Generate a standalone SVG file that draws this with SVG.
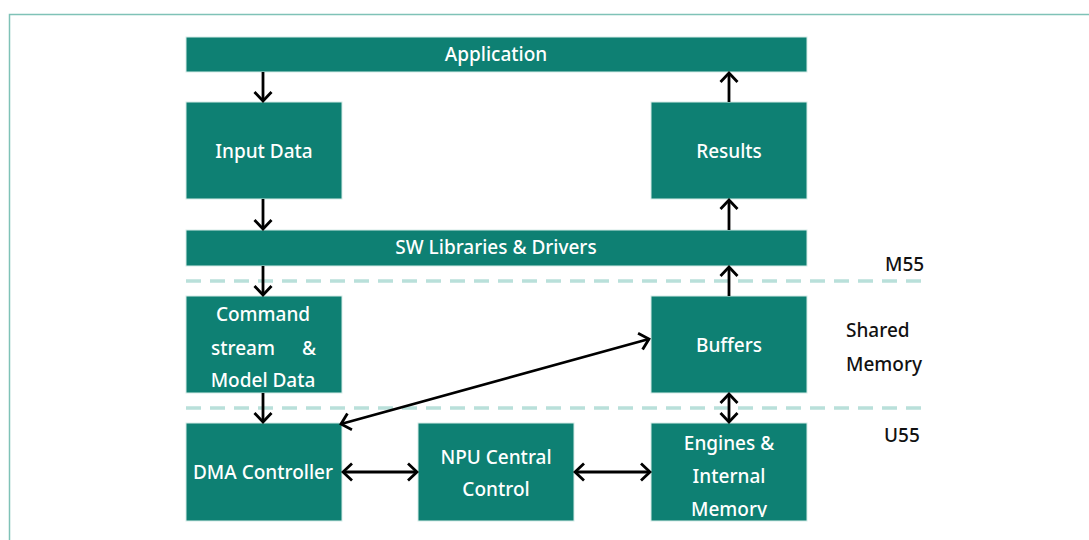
<svg xmlns="http://www.w3.org/2000/svg" width="1089" height="540" viewBox="0 0 1089 540">
<style>
.box{fill:#0e8073;stroke:#d6ece8;stroke-width:1}
.t{font-family:"Noto Sans","Liberation Sans",sans-serif;font-size:19px;font-weight:500;fill:#ffffff;text-anchor:middle}
.lbl{font-family:"Noto Sans","Liberation Sans",sans-serif;font-size:19px;font-weight:500;fill:#111111}
.dash{stroke:#b9e0da;stroke-width:3.5;stroke-dasharray:15 9;fill:none}
.c{stroke:#000;stroke-width:2.8;fill:none}
</style>
<defs>
<marker id="ah" markerUnits="userSpaceOnUse" viewBox="-12 -10 14 20" refX="0" refY="0" markerWidth="14" markerHeight="20" orient="auto-start-reverse">
<path d="M-9,-8.5 L0,0 L-9,8.5" fill="none" stroke="#000" stroke-width="2.8"/>
</marker>
<clipPath id="engClip"><rect x="651" y="423" width="156" height="94"/></clipPath>
</defs>
<rect width="1089" height="540" fill="#fff"/>
<rect x="9.5" y="14.5" width="1100" height="600" fill="none" stroke="#7fc2b7" stroke-width="1.5"/>

<g id="separators">
<line class="dash" x1="186" y1="281" x2="924" y2="281"/>
<line class="dash" x1="186" y1="408" x2="924" y2="408"/>
</g>

<g id="application"><rect class="box" x="186" y="37" width="621" height="35"/><text class="t" x="496" y="61">Application</text></g>
<g id="input-data"><rect class="box" x="186" y="102" width="156" height="97"/><text class="t" x="264" y="158">Input Data</text></g>
<g id="results"><rect class="box" x="651" y="102" width="156" height="97"/><text class="t" x="729" y="158">Results</text></g>
<g id="sw-libraries"><rect class="box" x="186" y="230" width="621" height="36"/><text class="t" x="496" y="254">SW Libraries &amp; Drivers</text></g>
<g id="command-stream"><rect class="box" x="186" y="296" width="156" height="97"/>
<text class="t" x="263" y="321">Command</text>
<text class="t" style="text-anchor:start"><tspan x="211" y="355">stream</tspan><tspan x="302" y="355">&amp;</tspan></text>
<text class="t" x="263" y="387">Model Data</text></g>
<g id="buffers"><rect class="box" x="651" y="296" width="156" height="97"/><text class="t" x="729" y="352">Buffers</text></g>
<g id="dma-controller"><rect class="box" x="186" y="423" width="156" height="98"/><text class="t" x="263" y="479">DMA Controller</text></g>
<g id="npu-central-control"><rect class="box" x="418" y="423" width="156" height="98"/><text class="t" x="496" y="464">NPU Central</text><text class="t" x="496" y="496">Control</text></g>
<g id="engines"><rect class="box" x="651" y="423" width="156" height="98"/>
<g clip-path="url(#engClip)"><text class="t" x="729" y="450">Engines &amp;</text><text class="t" x="729" y="483">Internal</text><text class="t" x="729" y="516">Memory</text></g></g>

<g id="labels">
<text class="lbl" x="885" y="271">M55</text>
<text class="lbl" x="846" y="337">Shared</text>
<text class="lbl" x="846" y="371">Memory</text>
<text class="lbl" x="884" y="442">U55</text>
</g>

<g id="connectors">
<line class="c" x1="263" y1="72" x2="263" y2="101" marker-end="url(#ah)"/>
<line class="c" x1="263" y1="199" x2="263" y2="229" marker-end="url(#ah)"/>
<line class="c" x1="263" y1="266" x2="263" y2="295" marker-end="url(#ah)"/>
<line class="c" x1="263" y1="393" x2="263" y2="422" marker-end="url(#ah)"/>
<line class="c" x1="729" y1="102" x2="729" y2="73" marker-end="url(#ah)"/>
<line class="c" x1="729" y1="230" x2="729" y2="200" marker-end="url(#ah)"/>
<line class="c" x1="729" y1="296" x2="729" y2="267" marker-end="url(#ah)"/>
<line class="c" x1="729" y1="394" x2="729" y2="422" marker-start="url(#ah)" marker-end="url(#ah)"/>
<line class="c" x1="343" y1="472" x2="417" y2="472" marker-start="url(#ah)" marker-end="url(#ah)"/>
<line class="c" x1="575" y1="472" x2="650" y2="472" marker-start="url(#ah)" marker-end="url(#ah)"/>
<line class="c" x1="341" y1="424" x2="649" y2="339" marker-start="url(#ah)" marker-end="url(#ah)"/>
</g>
</svg>
